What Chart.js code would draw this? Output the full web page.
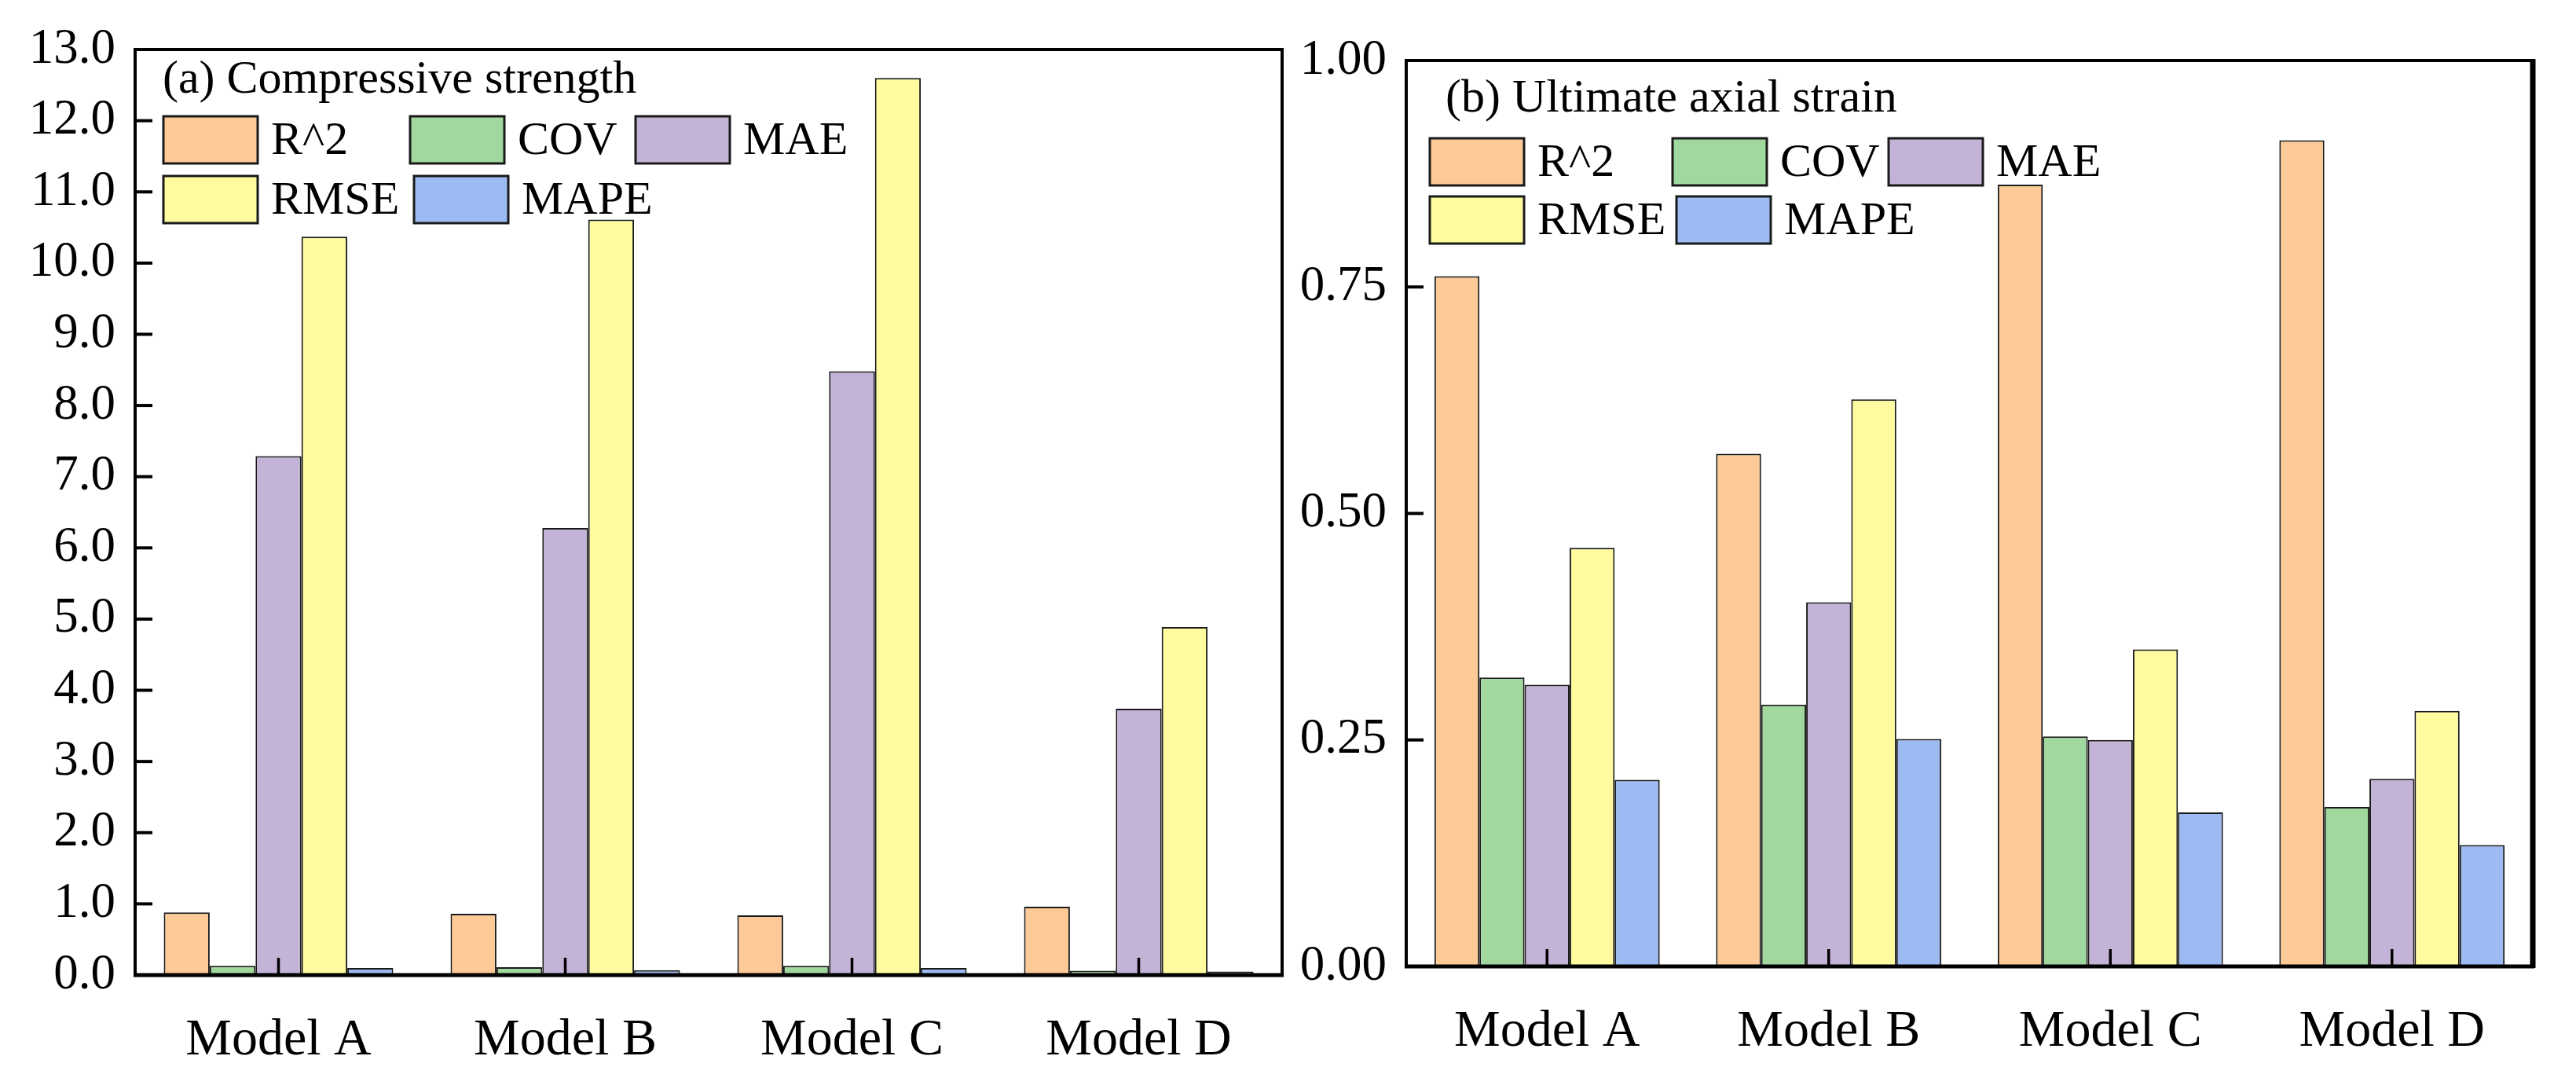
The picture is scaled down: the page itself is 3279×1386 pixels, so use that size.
<!DOCTYPE html>
<html><head><meta charset="utf-8">
<script src="https://cdn.jsdelivr.net/npm/chart.js@4.4.1/dist/chart.umd.min.js"></script>
<style>
html,body{margin:0;padding:0;background:#fff;width:3279px;height:1386px;overflow:hidden;}
#c1{position:absolute;left:0;top:0;}
#c2{position:absolute;left:1650px;top:0;}
</style></head><body>
<canvas id="c1" width="1650" height="1386"></canvas>
<canvas id="c2" width="1629" height="1386"></canvas>
<script>
// ---- data ----
const categories = ['Model A', 'Model B', 'Model C', 'Model D'];
const seriesNames = ['R^2', 'COV', 'MAE', 'RMSE', 'MAPE'];
const seriesColors = ['#FCC997', '#A0D89E', '#C3B3D7', '#FFFCA0', '#9DBAF2'];

// (a) Compressive strength
const csR2   = [0.88, 0.86, 0.84, 0.96];
const csCOV  = [0.13, 0.11, 0.13, 0.06];
const csMAE  = [7.29, 6.28, 8.48, 3.74];
const csRMSE = [10.37, 10.61, 12.60, 4.89];
const csMAPE = [0.10, 0.07, 0.10, 0.05];

// (b) Ultimate axial strain
const usR2   = [0.762, 0.566, 0.863, 0.912];
const usCOV  = [0.319, 0.289, 0.254, 0.176];
const usMAE  = [0.311, 0.402, 0.250, 0.207];
const usRMSE = [0.462, 0.626, 0.350, 0.282];
const usMAPE = [0.206, 0.251, 0.170, 0.134];

const titleA = '(a) Compressive strength';
const titleB = '(b) Ultimate axial strain';
const yMaxA = 13, yStepA = 1, yDecA = 1;
const yMaxB = 1, yStepB = 0.25, yDecB = 2;

const FONT = "'Liberation Serif', 'Times New Roman', serif";

const decoPlugin = {
  id: 'deco',
  afterDatasetsDraw(chart, args, opts) {
    const ctx = chart.ctx, a = chart.chartArea;
    ctx.save();
    // inward ticks
    ctx.strokeStyle = '#000';
    ctx.lineWidth = 4;
    const ys = chart.scales.y;
    ys.ticks.forEach(t => {
      const py = ys.getPixelForValue(t.value);
      ctx.beginPath(); ctx.moveTo(a.left, py); ctx.lineTo(a.left + 22, py); ctx.stroke();
    });
    const xs = chart.scales.x;
    ctx.lineWidth = 3.5;
    categories.forEach((c, i) => {
      const px = xs.getPixelForValue(i);
      ctx.beginPath(); ctx.moveTo(px, a.bottom); ctx.lineTo(px, a.bottom - 22); ctx.stroke();
    });
    // frame
    ctx.lineWidth = 4;
    ctx.strokeRect(a.left, a.top, a.right - a.left, a.bottom - a.top);
    ctx.lineWidth = 5;
    ctx.beginPath(); ctx.moveTo(a.left - 2, a.bottom); ctx.lineTo(a.right + 2, a.bottom); ctx.stroke();
    ctx.lineWidth = opts.rightWidth || 4;
    ctx.beginPath(); ctx.moveTo(a.right, a.top - 2); ctx.lineTo(a.right, a.bottom + 2); ctx.stroke();
    // title
    ctx.fillStyle = '#000';
    ctx.font = '60px ' + FONT;
    ctx.textBaseline = 'alphabetic';
    ctx.textAlign = 'left';
    ctx.fillText(opts.title, a.left + opts.titleX, a.top + opts.titleY);
    // legend
    chart.data.datasets.forEach((ds, i) => {
      const row = i < 3 ? 0 : 1;
      const col = i < 3 ? i : i - 3;
      const bx = a.left + opts.cols[row][col];
      const by = a.top + opts.rows[row];
      ctx.fillStyle = ds.backgroundColor;
      ctx.fillRect(bx, by, 120, 60);
      ctx.lineWidth = 3;
      ctx.strokeStyle = '#1a1a1a';
      ctx.strokeRect(bx, by, 120, 60);
      ctx.fillStyle = '#000';
      ctx.textBaseline = 'middle';
      ctx.fillText(ds.label, bx + 137, by + 32);
    });
    ctx.restore();
  }
};

function makeDatasets(arrs) {
  return arrs.map((d, i) => ({
    label: seriesNames[i],
    data: d,
    backgroundColor: seriesColors[i],
    borderColor: '#1a1a1a',
    borderWidth: 2,
    categoryPercentage: 0.8,
    barPercentage: 1.0
  }));
}

function makeChart(id, arrs, yMax, yStep, yDec, yWidth, xHeight, padding, deco) {
  return new Chart(document.getElementById(id), {
    type: 'bar',
    data: { labels: categories, datasets: makeDatasets(arrs) },
    plugins: [decoPlugin],
    options: {
      responsive: false,
      animation: false,
      devicePixelRatio: 1,
      layout: { padding: padding },
      plugins: { legend: { display: false }, tooltip: { enabled: false }, deco: deco },
      scales: {
        x: {
          offset: true,
          grid: { display: false, drawTicks: false },
          border: { display: false },
          ticks: { padding: 44, color: '#000', font: { family: FONT, size: 66 }, maxRotation: 0, autoSkip: false },
          afterFit(s) { s.height = xHeight; }
        },
        y: {
          min: 0, max: yMax,
          grid: { display: false, drawTicks: false },
          border: { display: false },
          ticks: { stepSize: yStep, padding: 25, color: '#000', font: { family: FONT, size: 63 },
                   callback: v => Number(v).toFixed(yDec) },
          afterFit(s) { s.width = yWidth; }
        }
      }
    }
  });
}

makeChart('c1', [csR2, csCOV, csMAE, csRMSE, csMAPE], yMaxA, yStepA, yDecA, 172, 145,
  { top: 63, right: 18, bottom: 0, left: 0 },
  { title: titleA, titleX: 35, titleY: 55, rows: [85, 161], cols: [[36, 350, 637], [36, 355]], rightWidth: 4 });

makeChart('c2', [usR2, usCOV, usMAE, usRMSE, usMAPE], yMaxB, yStepB, yDecB, 140, 145,
  { top: 77, right: 55, bottom: 11, left: 0 },
  { title: titleB, titleX: 50, titleY: 65, rows: [99, 173], cols: [[30, 339, 614], [30, 344]], rightWidth: 7 });
</script>
</body></html>
